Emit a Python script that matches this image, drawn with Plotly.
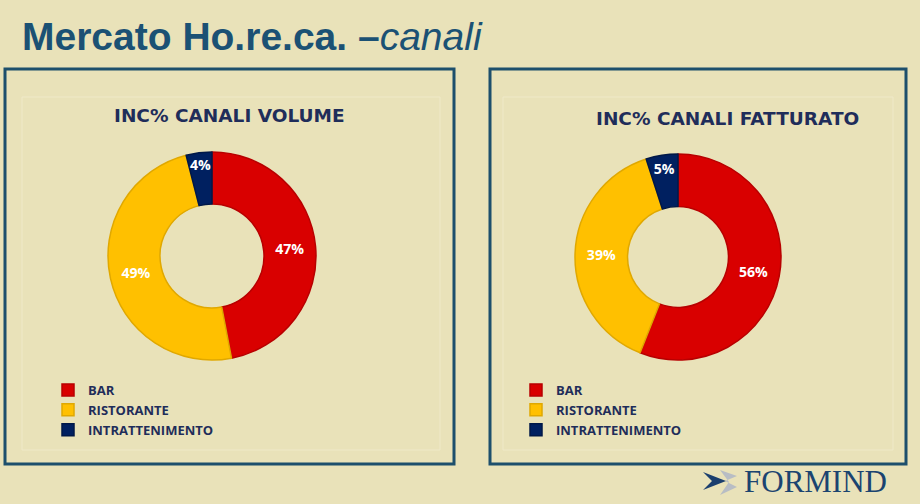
import plotly.graph_objects as go

W, H = 920, 504

categories = ["BAR", "RISTORANTE", "INTRATTENIMENTO"]
volume = [47, 49, 4]
fatturato = [56, 39, 5]
chart_titles = ["INC% CANALI VOLUME", "INC% CANALI FATTURATO"]
colors = ["#D90000", "#FFC000", "#002060"]
edge_colors = ["#B80000", "#E0A800", "#001848"]

# second legend needs its own entries (pie legend items are shared by label)
categories_2 = [c + "\u200b" for c in categories]

BG = "#E9E2B9"
TITLE_C = "#1B5174"
NAVY = "#1F2D5A"

def px(x):
    return x / W

def py(y):
    return 1 - y / H

fig = go.Figure()

common = dict(sort=False, direction="clockwise", rotation=0,
              textinfo="percent", texttemplate="%{value}%", textposition="inside",
              insidetextorientation="horizontal",
              textfont=dict(family="Open Sans", size=14.5, color="white", weight="bold"),
              marker=dict(colors=colors, line=dict(color=edge_colors, width=1.5)),
              showlegend=True)

fig.add_trace(go.Pie(labels=categories, values=volume, hole=0.5,
                     domain=dict(x=[px(108), px(316)], y=[py(360), py(152)]),
                     legend="legend", **common))
fig.add_trace(go.Pie(labels=categories_2, values=fatturato, hole=0.49,
                     domain=dict(x=[px(575), px(781)], y=[py(360), py(154)]),
                     legend="legend2", **common))

shapes = []
shapes.append(dict(type="rect", xref="paper", yref="paper", x0=px(5), x1=px(454), y0=py(464), y1=py(69),
                   line=dict(color="#1D4F6C", width=3)))
shapes.append(dict(type="rect", xref="paper", yref="paper", x0=px(490), x1=px(906), y0=py(464), y1=py(69),
                   line=dict(color="#1D4F6C", width=3)))
shapes.append(dict(type="rect", xref="paper", yref="paper", x0=px(22), x1=px(440), y0=py(450), y1=py(97),
                   line=dict(color="#EFE9C8", width=1)))
shapes.append(dict(type="rect", xref="paper", yref="paper", x0=px(503), x1=px(893), y0=py(450), y1=py(97),
                   line=dict(color="#EFE9C8", width=1)))

def path(points):
    return "M " + " L ".join(f"{px(x)},{py(y)}" for x, y in points) + " Z"

shapes.append(dict(type="path", xref="paper", yref="paper",
                   path=path([(720, 470), (737, 476), (725, 481), (737, 487), (720, 495), (729, 482)]),
                   fillcolor="#B8BDC4", line=dict(width=0)))
shapes.append(dict(type="path", xref="paper", yref="paper",
                   path=path([(703, 472), (726, 481), (703, 490), (712, 481)]),
                   fillcolor="#1B3F6E", line=dict(width=0)))

annotations = [
    dict(x=px(20), y=py(37), xref="paper", yref="paper", xanchor="left", yanchor="middle", showarrow=False,
         text="<b>Mercato Ho.re.ca. –</b><i>canali</i>",
         font=dict(family="Liberation Sans, Arial", size=39, color=TITLE_C)),
    dict(x=px(229), y=py(116), xref="paper", yref="paper", xanchor="center", yanchor="middle", showarrow=False,
         text="<b>" + chart_titles[0] + "</b>",
         font=dict(family="DejaVu Sans", size=18.5, color=NAVY)),
    dict(x=px(727), y=py(118), xref="paper", yref="paper", xanchor="center", yanchor="middle", showarrow=False,
         text="<b>" + chart_titles[1] + "</b>",
         font=dict(family="DejaVu Sans", size=18.5, color=NAVY)),
    dict(x=px(742), y=py(481), xref="paper", yref="paper", xanchor="left", yanchor="middle", showarrow=False,
         text="FORMIND",
         font=dict(family="Liberation Serif", size=31, color="#1B4470")),
]

legend_font = dict(family="Open Sans", size=13, color=NAVY, weight="bold")
fig.update_layout(
    width=W, height=H,
    margin=dict(l=0, r=0, t=0, b=0),
    paper_bgcolor=BG, plot_bgcolor=BG,
    shapes=shapes, annotations=annotations,
    uniformtext=dict(minsize=14, mode="show"),
    legend=dict(x=px(48), y=py(375), xanchor="left", yanchor="top", font=legend_font,
                bgcolor="rgba(0,0,0,0)", itemwidth=30, tracegroupgap=0),
    legend2=dict(x=px(516), y=py(375), xanchor="left", yanchor="top", font=legend_font,
                 bgcolor="rgba(0,0,0,0)", itemwidth=30, tracegroupgap=0),
)

fig.write_html("out.html", config={"displayModeBar": False},
               post_script="document.body.style.margin='0';")
